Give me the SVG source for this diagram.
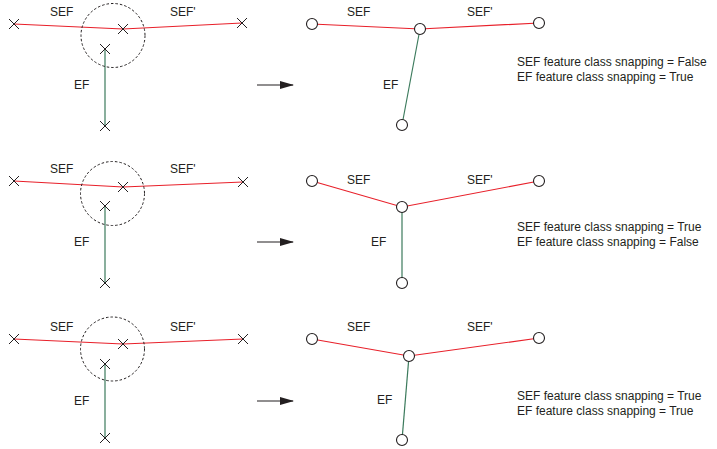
<svg xmlns="http://www.w3.org/2000/svg" width="717" height="449" viewBox="0 0 717 449">
<defs>
<style>
text{font-family:"Liberation Sans",Arial,sans-serif;font-size:12px;fill:#231f20}
.sef{fill:none;stroke:#e8202a;stroke-width:1.2}
.ef{fill:none;stroke:#3b7a5c;stroke-width:1.2}
.x{stroke:#231f20;stroke-width:1;fill:none}
.snap{fill:none;stroke:#231f20;stroke-width:1;stroke-dasharray:2.5,2}
.v{fill:#fff;stroke:#231f20;stroke-width:1.1}
.arr{stroke:#231f20;stroke-width:1.2;fill:none}
</style>
<marker id="ah" markerWidth="14" markerHeight="10" refX="13" refY="5" orient="auto" markerUnits="userSpaceOnUse">
<path d="M0,1 L14,5 L0,9 Z" fill="#231f20"/>
</marker>
<path id="xm" d="M-5,-5 L5,5 M-5,5 L5,-5" class="x"/>
</defs>

<g id="connectors">
<!-- panel 1 before -->
<polyline class="sef" points="14,24 123,29 242,23"/>
<line class="ef" x1="105" y1="49" x2="105" y2="126"/>
<!-- panel 1 after -->
<polyline class="sef" points="312,24 420,29 539,23"/>
<line class="ef" x1="420" y1="29" x2="402" y2="125"/>
<!-- panel 2 before -->
<polyline class="sef" points="14,181 123,187 243,182"/>
<line class="ef" x1="105" y1="206" x2="105" y2="283"/>
<!-- panel 2 after -->
<polyline class="sef" points="312,181 402,207 539,181"/>
<line class="ef" x1="402" y1="207" x2="402" y2="283"/>
<!-- panel 3 before -->
<polyline class="sef" points="14,339 123,344 243,339"/>
<line class="ef" x1="105" y1="364" x2="105" y2="438"/>
<!-- panel 3 after -->
<polyline class="sef" points="312,339 409,356 539,338"/>
<line class="ef" x1="409" y1="356" x2="402" y2="440"/>
<!-- arrows -->
<line class="arr" x1="257" y1="85" x2="293" y2="85" marker-end="url(#ah)"/>
<line class="arr" x1="257" y1="242" x2="293" y2="242" marker-end="url(#ah)"/>
<line class="arr" x1="257" y1="401" x2="293" y2="401" marker-end="url(#ah)"/>
</g>

<g id="panel1-before">
<circle class="snap" cx="113" cy="35.5" r="32"/>
<use href="#xm" x="14" y="24"/>
<use href="#xm" x="123" y="29"/>
<use href="#xm" x="242" y="23"/>
<use href="#xm" x="105" y="49"/>
<use href="#xm" x="105" y="126"/>
<text x="50" y="16">SEF</text>
<text x="170" y="16">SEF'</text>
<text x="74" y="89">EF</text>
</g>
<g id="panel1-after">
<circle class="v" cx="312" cy="24" r="5.5"/>
<circle class="v" cx="420" cy="29" r="5.5"/>
<circle class="v" cx="539" cy="23" r="5.5"/>
<circle class="v" cx="402" cy="125" r="5.5"/>
<text x="347" y="16">SEF</text>
<text x="467" y="16">SEF'</text>
<text x="383" y="89">EF</text>
<text x="517" y="66">SEF feature class snapping = False</text>
<text x="517" y="81">EF feature class snapping = True</text>
</g>

<g id="panel2-before">
<circle class="snap" cx="112.5" cy="193.5" r="32"/>
<use href="#xm" x="14" y="181"/>
<use href="#xm" x="123" y="187"/>
<use href="#xm" x="243" y="182"/>
<use href="#xm" x="105" y="206"/>
<use href="#xm" x="105" y="283"/>
<text x="50" y="173">SEF</text>
<text x="170" y="173">SEF'</text>
<text x="74" y="246">EF</text>
</g>
<g id="panel2-after">
<circle class="v" cx="312" cy="181" r="5.5"/>
<circle class="v" cx="402" cy="207" r="5.5"/>
<circle class="v" cx="539" cy="181" r="5.5"/>
<circle class="v" cx="402" cy="283" r="5.5"/>
<text x="347" y="184">SEF</text>
<text x="467" y="184">SEF'</text>
<text x="371" y="246">EF</text>
<text x="517" y="231">SEF feature class snapping = True</text>
<text x="517" y="246">EF feature class snapping = False</text>
</g>

<g id="panel3-before">
<circle class="snap" cx="112.5" cy="349" r="32"/>
<use href="#xm" x="14" y="339"/>
<use href="#xm" x="123" y="344"/>
<use href="#xm" x="243" y="339"/>
<use href="#xm" x="105" y="364"/>
<use href="#xm" x="105" y="438"/>
<text x="50" y="331">SEF</text>
<text x="170" y="331">SEF'</text>
<text x="74" y="405">EF</text>
</g>
<g id="panel3-after">
<circle class="v" cx="312" cy="339" r="5.5"/>
<circle class="v" cx="409" cy="356" r="5.5"/>
<circle class="v" cx="539" cy="338" r="5.5"/>
<circle class="v" cx="402" cy="440" r="5.5"/>
<text x="347" y="331">SEF</text>
<text x="467" y="331">SEF'</text>
<text x="377" y="404">EF</text>
<text x="517" y="400">SEF feature class snapping = True</text>
<text x="517" y="415">EF feature class snapping = True</text>
</g>
</svg>
